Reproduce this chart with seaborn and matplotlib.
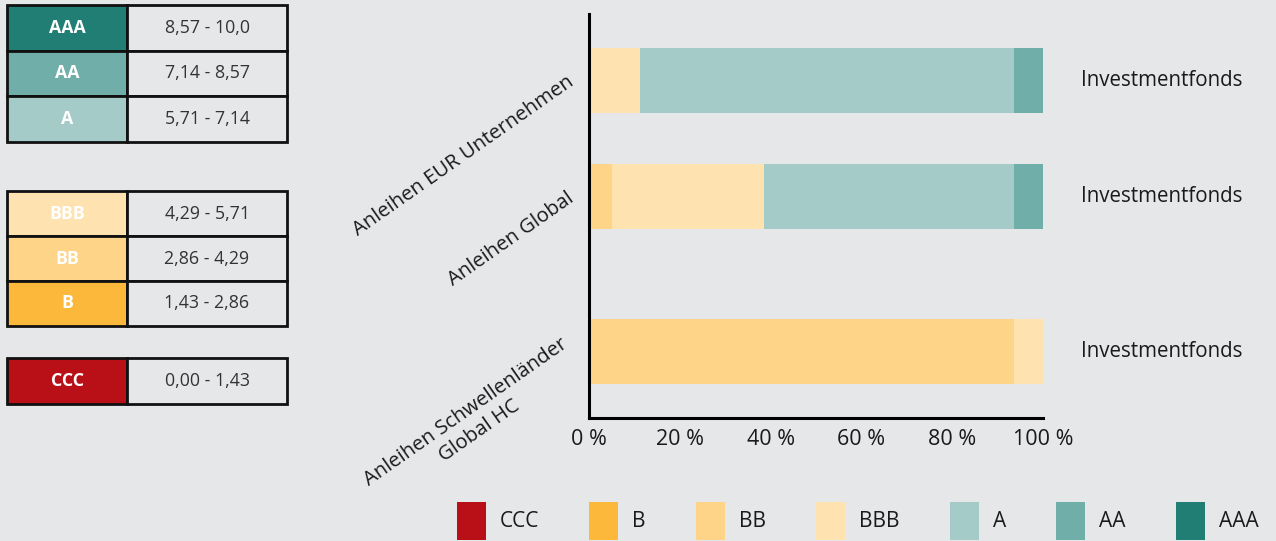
import numpy as np
import pandas as pd
import seaborn as sns
import matplotlib.pyplot as plt
import matplotlib.transforms as mtransforms
from matplotlib.patches import Patch

# ---------------- data ----------------
categories = ["Anleihen EUR Unternehmen", "Anleihen Global", "Anleihen Schwellenländer\nGlobal HC"]
right_labels = ["Investmentfonds", "Investmentfonds", "Investmentfonds"]
ratings = ["CCC", "B", "BB", "BBB", "A", "AA", "AAA"]
ccc = [0.0, 0.0, 0.0]
b = [0.0, 0.0, 0.0]
bb = [0.0, 5.0, 93.6]
bbb = [11.2, 33.5, 6.4]
a = [82.4, 55.1, 0.0]
aa = [6.4, 6.4, 0.0]
aaa = [0.0, 0.0, 0.0]
x_ticks = [0, 20, 40, 60, 80, 100]

table_top_ratings = ["AAA", "AA", "A"]
table_top_ranges = ["8,57 - 10,0", "7,14 - 8,57", "5,71 - 7,14"]
table_mid_ratings = ["BBB", "BB", "B"]
table_mid_ranges = ["4,29 - 5,71", "2,86 - 4,29", "1,43 - 2,86"]
table_low_ratings = ["CCC"]
table_low_ranges = ["0,00 - 1,43"]

# ---------------- style ----------------
BG = "#E6E7E8"
rating_colors = {
    "CCC": "#B90F16", "B": "#FCB83A", "BB": "#FDD488", "BBB": "#FEE2AF",
    "A": "#A4CBC8", "AA": "#70AFA9", "AAA": "#207E74",
}
row_pos = [0.0, 1.0, 2.336]

sns.set_theme(style="white")
plt.rcParams["font.family"] = ["Open Sans", "DejaVu Sans"]
plt.rcParams["text.color"] = "#1a1a1a"

fig = plt.figure(figsize=(12.76, 5.41), dpi=100, facecolor=BG)
W, H = 1276, 541

df = pd.DataFrame({"category": categories, "CCC": ccc, "B": b, "BB": bb,
                   "BBB": bbb, "A": a, "AA": aa, "AAA": aaa})
cum = df[ratings].cumsum(axis=1)

ax = fig.add_axes([589 / W, 1 - 418 / H, 454 / W, 404 / H])
ax.set_facecolor(BG)
for r in reversed(ratings):
    sns.barplot(x=cum[r].values, y=row_pos, orient="y", native_scale=True,
                color=rating_colors[r], saturation=1, width=0.56,
                linewidth=0, ax=ax)

ax.set_xlim(0, 100)
ax.set_ylim(2.909, -0.573)
ax.set_xlabel("")
ax.set_ylabel("")
ax.set_xticks(x_ticks, [f"{v} %" for v in x_ticks])
ax.set_yticks(row_pos, categories)
for s in ["top", "right"]:
    ax.spines[s].set_visible(False)
for s in ["left", "bottom"]:
    ax.spines[s].set_color("black")
    ax.spines[s].set_linewidth(2.2)
ax.tick_params(axis="x", direction="in", length=9, width=2.2, color="black",
               labelsize=15.5, pad=8, labelcolor="#1a1a1a")
ax.tick_params(axis="y", length=0, labelsize=14.6, pad=12, labelcolor="#1a1a1a")
for lbl in ax.get_yticklabels():
    lbl.set_rotation(35)
    lbl.set_rotation_mode("anchor")
    lbl.set_ha("right")
    lbl.set_va("center")
    lbl.set_multialignment("center")

trans = mtransforms.blended_transform_factory(ax.transAxes, ax.transData)
for p, t in zip(row_pos, right_labels):
    ax.text(1.262, p, t, transform=trans, ha="center", va="center", fontsize=14.8)

# ---------------- legend ----------------
handles = [Patch(facecolor=rating_colors[r], edgecolor="none", label=r) for r in ratings]
leg = fig.legend(handles=handles, loc="center", bbox_to_anchor=(857.5 / W, 1 - 521 / H),
                 ncol=7, frameon=False, borderaxespad=0, borderpad=0,
                 handlelength=1.4, handleheight=2.43, handletextpad=0.67,
                 columnspacing=2.4,
                 prop={"family": ["Open Sans", "DejaVu Sans"], "size": 15})

# ---------------- tables ----------------
def draw_table(top_px, bottom_px, labels, ranges):
    tax = fig.add_axes([7 / W, 1 - bottom_px / H, 280 / W, (bottom_px - top_px) / H])
    tax.axis("off")
    cell_text = [[l, r] for l, r in zip(labels, ranges)]
    colours = [[rating_colors[l], BG] for l in labels]
    tbl = tax.table(cellText=cell_text, cellColours=colours, cellLoc="center",
                    colWidths=[120 / 280, 160 / 280], bbox=[0, 0, 1, 1])
    tbl.auto_set_font_size(False)
    for (rr, cc), cell in tbl.get_celld().items():
        cell.set_linewidth(2)
        cell.set_edgecolor("#111111")
        txt = cell.get_text()
        txt.set_fontsize(12.8)
        if cc == 0:
            txt.set_color("white")
            txt.set_fontweight("bold")
        else:
            txt.set_color("#333333")

draw_table(5, 142, table_top_ratings, table_top_ranges)
draw_table(191, 326, table_mid_ratings, table_mid_ranges)
draw_table(358, 404, table_low_ratings, table_low_ranges)

fig.savefig("out.png", dpi=100, facecolor=BG)
